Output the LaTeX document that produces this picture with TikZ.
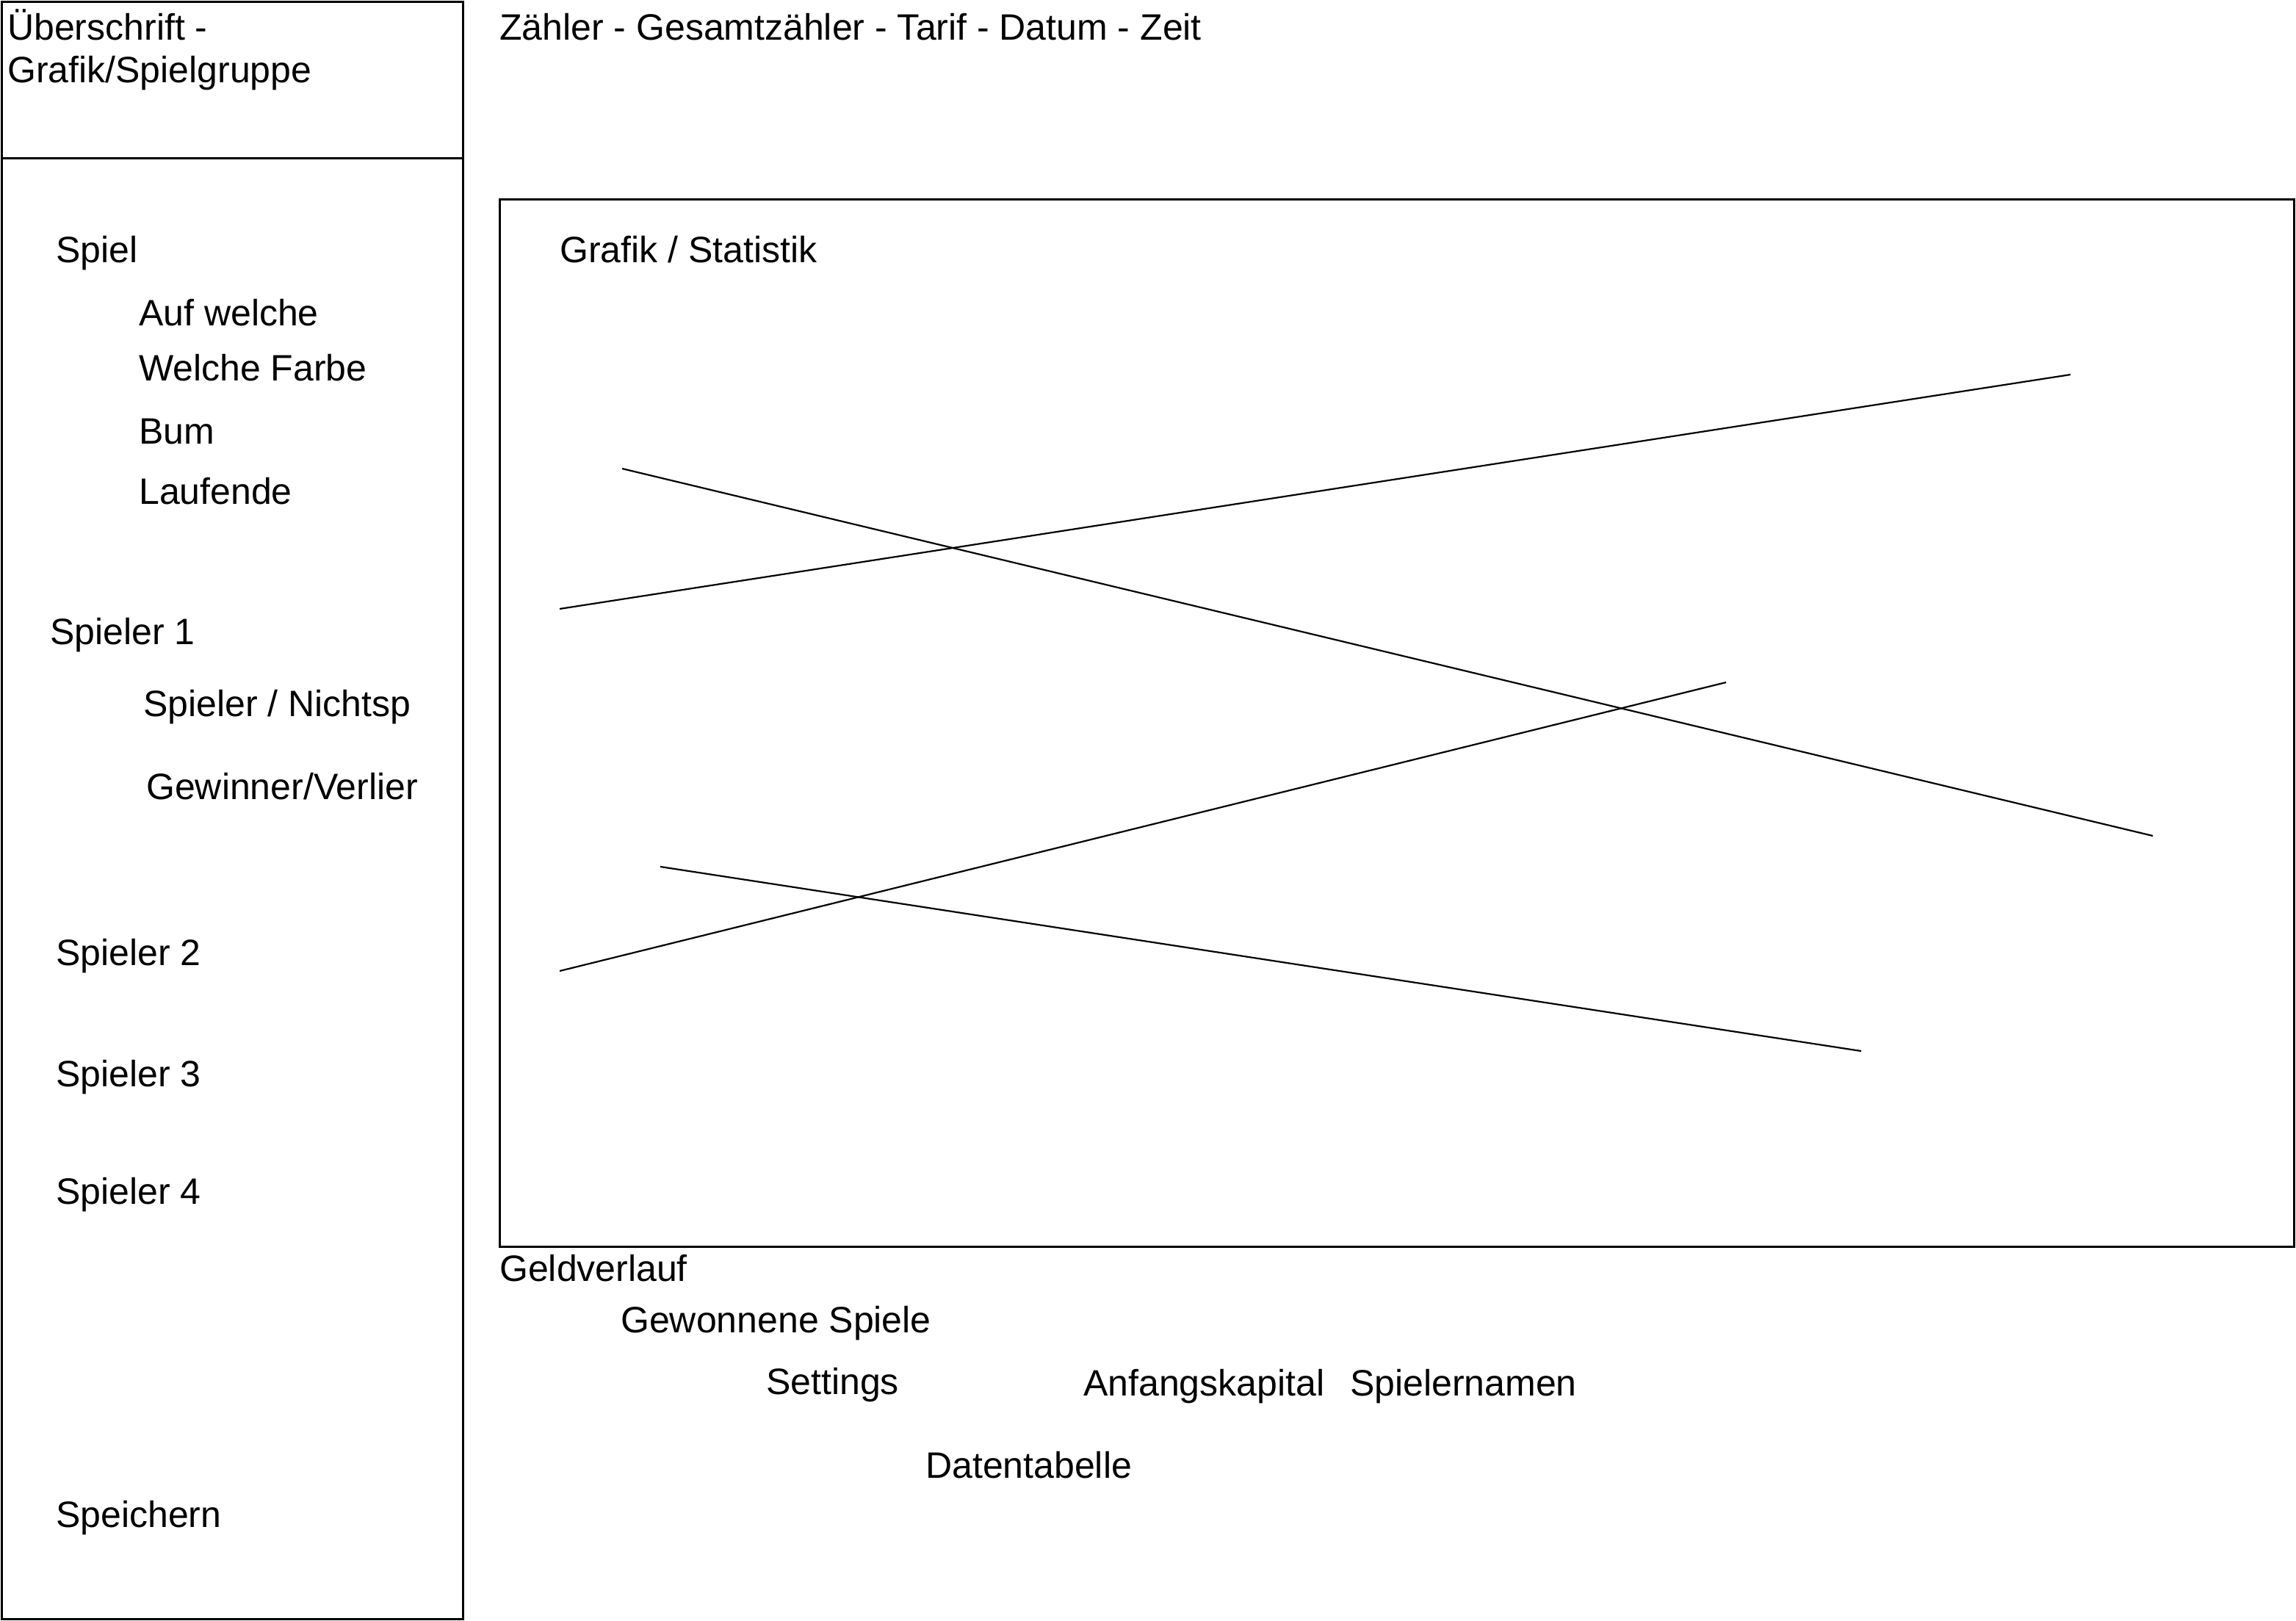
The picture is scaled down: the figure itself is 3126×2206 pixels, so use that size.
\documentclass[tikz,border=0pt]{standalone}
\usepackage{fontspec}
\setmainfont{Liberation Sans}
\begin{document}
\begin{tikzpicture}[x=1pt,y=-1pt,
  lbl/.style={anchor=base west,inner sep=0pt,font=\fontsize{50}{60}\selectfont},
  frame/.style={draw=black,line width=3pt},
  plotline/.style={draw=black,line width=2.2pt}]
\fill[white] (0,0) rectangle (3126,2206);
\useasboundingbox (0,0) rectangle (3126,2206);
% left panel
\draw[frame] (2,2) rectangle (630,2204);
\draw[frame] (2,215) -- (630,215);
% main chart frame
\draw[frame] (680,271) rectangle (3123,1697);
% header texts
\node[lbl] (h1) at (10,54) {Überschrift -};
\node[lbl] (h2) at (10,112) {Grafik/Spielgruppe};
\node[lbl] (top) at (680,54) {Zähler - Gesamtzähler - Tarif - Datum - Zeit};
\node[lbl] (gs) at (762,357) {Grafik / Statistik};
% left menu
\node[lbl] (spiel) at (76,357) {Spiel};
\node[lbl] (auf) at (189,443) {Auf welche};
\node[lbl] (farbe) at (189,518) {Welche Farbe};
\node[lbl] (bum) at (189,604) {Bum};
\node[lbl] (lauf) at (189,686) {Laufende};
\node[lbl] (sp1) at (68,877) {Spieler 1};
\node[lbl] (nicht) at (195,975) {Spieler / Nichtsp};
\node[lbl] (gew) at (199,1088) {Gewinner/Verlier};
\node[lbl] (sp2) at (76,1314) {Spieler 2};
\node[lbl] (sp3) at (76,1479) {Spieler 3};
\node[lbl] (sp4) at (76,1639) {Spieler 4};
\node[lbl] (save) at (76,2079) {Speichern};
% bottom texts
\node[lbl] (geld) at (680,1744) {Geldverlauf};
\node[lbl] (gewsp) at (845,1814) {Gewonnene Spiele};
\node[lbl] (set) at (1043,1898) {Settings};
\node[lbl] (kap) at (1475,1900) {Anfangskapital};
\node[lbl] (namen) at (1838,1900) {Spielernamen};
\node[lbl] (tab) at (1260,2012) {Datentabelle};
% chart lines
\coordinate (a1) at (762,829);  \coordinate (a2) at (2819,510);
\coordinate (b1) at (847,638);  \coordinate (b2) at (2931,1138);
\coordinate (c1) at (762,1322); \coordinate (c2) at (2350,929);
\coordinate (d1) at (899,1180); \coordinate (d2) at (2534,1431);
\draw[plotline] (a1) -- (a2);
\draw[plotline] (b1) -- (b2);
\draw[plotline] (c1) -- (c2);
\draw[plotline] (d1) -- (d2);
\end{tikzpicture}
\end{document}
